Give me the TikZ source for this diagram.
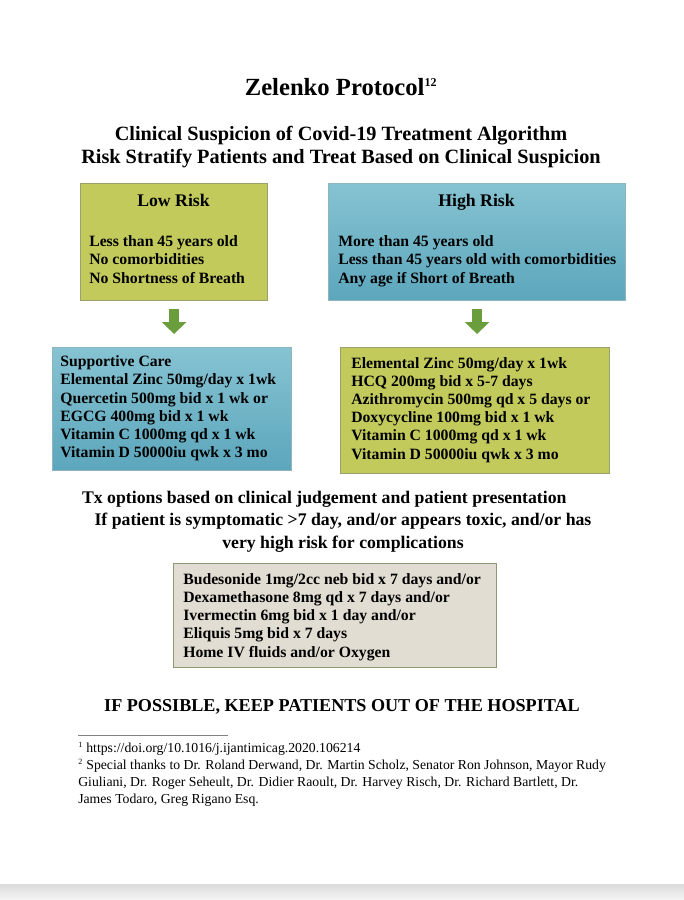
\documentclass[tikz,border=0pt]{standalone}
\usepackage{fontspec}
\setmainfont{Liberation Serif}
\usetikzlibrary{arrows.meta,positioning}
\definecolor{olivebox}{HTML}{C3CA5C}
\definecolor{olivedge}{HTML}{9C9F6E}
\definecolor{tealtop}{HTML}{86C3D2}
\definecolor{tealbot}{HTML}{5CA6BC}
\definecolor{tealedge}{HTML}{8FB4BE}
\definecolor{greyfill}{HTML}{E1DDD2}
\definecolor{greyedge}{HTML}{8C9A74}
\definecolor{arrowgreen}{HTML}{6A9D3B}
\tikzset{
  sz/.style 2 args={minimum width=#1*0.75pt, minimum height=#2*0.75pt},
  box/.style={draw, line width=0.9pt, inner sep=0pt, anchor=north west},
  olive/.style={box, draw=olivedge, fill=olivebox},
  teal/.style={box, draw=tealedge, top color=tealtop, bottom color=tealbot},
  % multi-line nodes: base is the baseline of the last line
  listtext/.style={font=\bfseries\fontsize{11.8}{13.6}\selectfont, align=left,
    anchor=base west, inner sep=0pt},
  headtext/.style={font=\bfseries\fontsize{13.3}{15}\selectfont, inner sep=0pt, anchor=base},
  bigtext/.style={font=\bfseries\fontsize{13.3}{17}\selectfont, align=center,
    inner sep=0pt, anchor=base},
  down/.style={arrowgreen, line width=7.5pt, -{Triangle[width=18pt,length=9pt]},
    shorten <=6pt, shorten >=9.75pt},
}
\begin{document}
\begin{tikzpicture}[x=0.75pt, y=-0.75pt]
  \useasboundingbox (0,0) rectangle (684,900);
  % titles
  \node[font=\bfseries\fontsize{18.5}{22}\selectfont, inner sep=0pt, anchor=base]
    (title) at (341,95) {Zelenko Protocol\textsuperscript{\fontsize{9}{9}\selectfont 12}};
  \node[font=\bfseries\fontsize{15.2}{17.25}\selectfont, align=center, inner sep=0pt, anchor=base]
    (subtitle) at (341,163) {Clinical Suspicion of Covid-19 Treatment Algorithm\\
      Risk Stratify Patients and Treat Based on Clinical Suspicion};
  % risk boxes
  \node[olive, sz={187}{117}] (low) at (80,183) {};
  \node[teal, sz={297}{117}] (high) at (328,183) {};
  \node[headtext] (lowhead) at (173.5,206) {Low Risk};
  \node[headtext] (highhead) at (476.5,206) {High Risk};
  \node[listtext] (lowlist) at (89,283) {Less than 45 years old\\
    No comorbidities\\ No Shortness of Breath};
  \node[listtext] (highlist) at (338,283) {More than 45 years old\\
    Less than 45 years old with comorbidities\\ Any age if Short of Breath};
  % treatment boxes
  \node[teal, sz={239}{123}] (supp) at (52,347) {};
  \node[olive, sz={269}{126}] (hcq) at (340,347) {};
  \node[listtext] (supplist) at (60,457.5) {Supportive Care\\
    Elemental Zinc 50mg/day x 1wk\\ Quercetin 500mg bid x 1 wk or\\
    EGCG 400mg bid x 1 wk\\ Vitamin C 1000mg qd x 1 wk\\
    Vitamin D 50000iu qwk x 3 mo};
  \node[listtext] (hcqlist) at (351,459) {Elemental Zinc 50mg/day x 1wk\\
    HCQ 200mg bid x 5-7 days\\ Azithromycin 500mg qd x 5 days or\\
    Doxycycline 100mg bid x 1 wk\\ Vitamin C 1000mg qd x 1 wk\\
    Vitamin D 50000iu qwk x 3 mo};
  \draw[down] (low.south) -- (low.south |- supp.north);
  \draw[down] (high.south) -- (high.south |- hcq.north);
  % late treatment
  \node[bigtext] (txopt) at (343,548.5) {Tx options based on clinical judgement and patient presentation\hspace*{28pt}\\
    If patient is symptomatic >7 day, and/or appears toxic, and/or has\\
    very high risk for complications};
  \node[box, draw=greyedge, fill=greyfill, sz={323}{104}] (late) at (173,563) {};
  \node[listtext] (latelist) at (183,657) {Budesonide 1mg/2cc neb bid x 7 days and/or\\
    Dexamethasone 8mg qd x 7 days and/or\\ Ivermectin 6mg bid x 1 day and/or\\
    Eliquis 5mg bid x 7 days\\ Home IV fluids and/or Oxygen};
  \node[font=\bfseries\fontsize{13.6}{15}\selectfont, inner sep=0pt, anchor=base]
    (keepout) at (342,711) {IF POSSIBLE, KEEP PATIENTS OUT OF THE HOSPITAL};
  % footnotes
  \coordinate (ruleL) at (78,735); \coordinate (ruleR) at (228,735);
  \draw[gray, line width=0.7pt] (ruleL) -- (ruleR);
  \node[font=\fontsize{10.3}{12.75}\selectfont, align=left, inner sep=0pt, anchor=base west]
    (notes) at (78,803) {\textsuperscript{\fontsize{6}{6}\selectfont 1} https://doi.org/10.1016/j.ijantimicag.2020.106214\\
    \textsuperscript{\fontsize{6}{6}\selectfont 2} Special thanks to Dr. Roland Derwand, Dr. Martin Scholz, Senator Ron Johnson, Mayor Rudy\\
    Giuliani, Dr. Roger Seheult, Dr. Didier Raoult, Dr. Harvey Risch, Dr. Richard Bartlett, Dr.\\
    James Todaro, Greg Rigano Esq.};
  % page edge
  \shade[top color=black!14, bottom color=black!4] (0,884) rectangle (684,900);
\end{tikzpicture}
\end{document}
